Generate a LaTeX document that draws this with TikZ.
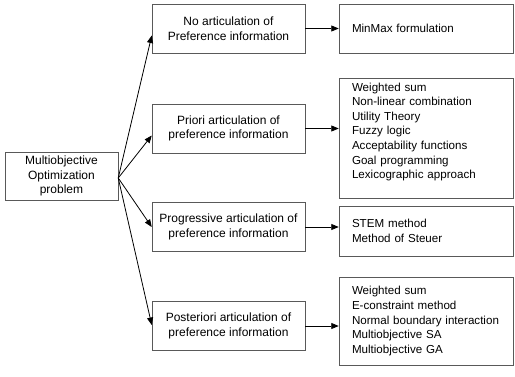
\documentclass[tikz,border=0pt]{standalone}
\usepackage{fontspec}
\setmainfont{Liberation Sans}
\usetikzlibrary{arrows.meta}
\begin{document}
\begin{tikzpicture}[x=1pt,y=-1pt,
  box/.style={draw=black!65,line width=0.5pt,inner sep=0pt,font=\fontsize{12}{14.6}\selectfont},
  midbox/.style={box,minimum width=153pt,minimum height=49pt,align=center},
  resbox/.style={box,font=\fontsize{11.6}{14.6}\selectfont,text width=148pt,inner xsep=13pt,align=left},
  conn/.style={line width=0.8pt,-{Triangle[length=7.5pt,width=6pt]}}]
\useasboundingbox (0,0) rectangle (515,376);
\node[box,minimum width=113pt,minimum height=48pt,align=center] (l) at (61.5,176) {Multiobjective\\Optimization\\problem};
\node[midbox] (m1) at (228.5,28.5) {No articulation of\\Preference information};
\node[midbox] (m2) at (228.5,128.5) {Priori articulation of\\preference information};
\node[midbox] (m3) at (228.5,227) {Progressive articulation of\\preference information};
\node[midbox] (m4) at (228.5,326) {Posteriori articulation of\\preference information};
\node[resbox,minimum height=49pt] (r1) at (426,28.5) {MinMax formulation};
\node[resbox,minimum height=120pt] (r2) at (426,138) {Weighted sum\\Non-linear combination\\Utility Theory\\Fuzzy logic\\Acceptability functions\\Goal programming\\Lexicographic approach\\\mbox{}};
\node[resbox,minimum height=50pt] (r3) at (426,231) {STEM method\\Method of Steuer};
\node[resbox,minimum height=88pt] (r4) at (426,321) {Weighted sum\\E-constraint method\\Normal boundary interaction\\Multiobjective SA\\Multiobjective GA};
\draw[conn] ([yshift=-2pt]l.east) -- ([yshift=-7pt]m1.west);
\draw[conn] ([yshift=-2pt]l.east) -- ([yshift=-7pt]m2.west);
\draw[conn] ([yshift=-2pt]l.east) -- ([yshift=0pt]m3.west);
\draw[conn] ([yshift=-2pt]l.east) -- ([yshift=1pt]m4.west);
\draw[conn] (m1.east) -- (m1.east -| r1.west);
\draw[conn] (m2.east) -- (m2.east -| r2.west);
\draw[conn] (m3.east) -- (m3.east -| r3.west);
\draw[conn] (m4.east) -- (m4.east -| r4.west);
\end{tikzpicture}
\end{document}
